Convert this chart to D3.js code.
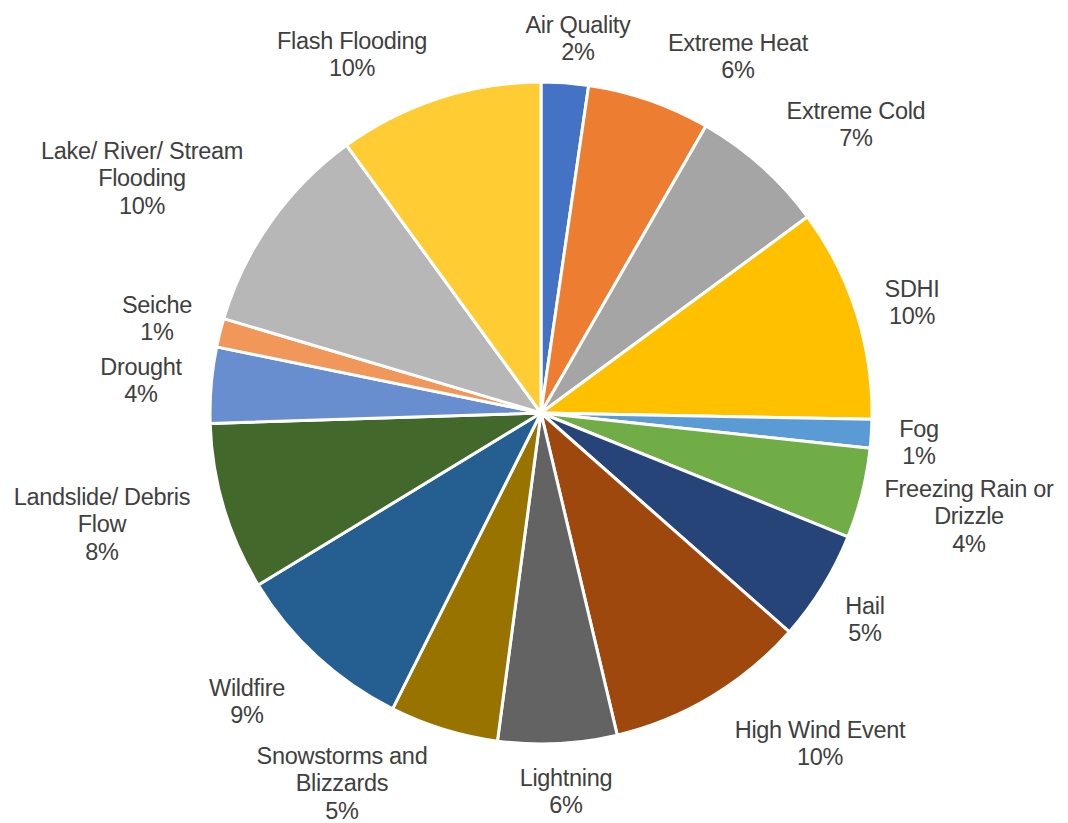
<!DOCTYPE html>
<html>
<head>
<meta charset="utf-8">
<script src="https://cdn.jsdelivr.net/npm/d3@7/dist/d3.min.js"></script>
<style>
  html, body { margin: 0; padding: 0; background: #fff; }
  svg { display: block; }
  text { font-family: "Liberation Sans", Arial, sans-serif; fill: #404040; }
</style>
</head>
<body>
<svg id="chart" width="1068" height="823"></svg>
<script>
// ---- data ----
const categories = [
  "Air Quality", "Extreme Heat", "Extreme Cold", "SDHI", "Fog",
  "Freezing Rain or Drizzle", "Hail", "High Wind Event", "Lightning",
  "Snowstorms and Blizzards", "Wildfire", "Landslide/ Debris Flow",
  "Drought", "Seiche", "Lake/ River/ Stream Flooding", "Flash Flooding"
];
const values = [2.3, 6.0, 6.6, 10.4, 1.4, 4.4, 5.4, 9.8, 5.8, 5.3, 8.9, 8.2, 3.7, 1.4, 10.4, 10.0];
const labelLines = [
  ["Air Quality"], ["Extreme Heat"], ["Extreme Cold"], ["SDHI"], ["Fog"],
  ["Freezing Rain or", "Drizzle"], ["Hail"], ["High Wind Event"], ["Lightning"],
  ["Snowstorms and", "Blizzards"], ["Wildfire"], ["Landslide/ Debris", "Flow"],
  ["Drought"], ["Seiche"], ["Lake/ River/ Stream", "Flooding"], ["Flash Flooding"]
];
const colors = [
  "#4472C4", "#ED7D31", "#A5A5A5", "#FFC000", "#5B9BD5", "#70AD47", "#264478",
  "#9E480E", "#636363", "#997300", "#255E91", "#43682B", "#698ED0", "#F1975A",
  "#B7B7B7", "#FFCD33"
];

// ---- layout ----
const cx = 541, cy = 413, radius = 331;
const labelAnchors = [
  [578, 24], [738, 42], [856, 110], [912, 288], [919, 428],
  [969, 488], [865, 605], [820, 729], [566, 777],
  [342, 755], [247, 687], [102, 496],
  [141, 366], [157, 304], [142, 150], [352, 40]
];
const fontSize = 23.5, lineH = 27.5;

const svg = d3.select("#chart");
const data = categories.map((c, i) => ({ name: c, value: values[i], i }));

const pie = d3.pie().value(d => d.value).sort(null);
const arc = d3.arc().innerRadius(0).outerRadius(radius);
const color = d3.scaleOrdinal().domain(categories).range(colors);

const g = svg.append("g").attr("transform", `translate(${cx},${cy})`);
g.selectAll("path")
  .data(pie(data))
  .join("path")
  .attr("d", arc)
  .attr("fill", d => color(d.data.name))
  .attr("stroke", "#fff")
  .attr("stroke-width", 3)
  .attr("stroke-linejoin", "round");

const total = d3.sum(values);
const labels = svg.append("g");
data.forEach((d, i) => {
  const lines = labelLines[i].concat([Math.round(d.value / total * 100) + "%"]);
  const [x, y] = labelAnchors[i];
  const t = labels.append("text")
    .attr("text-anchor", "middle")
    .attr("font-size", fontSize)
    .attr("letter-spacing", -0.3);
  lines.forEach((ln, k) => {
    t.append("tspan").attr("x", x).attr("y", y + 8.5 + k * lineH).text(ln);
  });
});
</script>
</body>
</html>
